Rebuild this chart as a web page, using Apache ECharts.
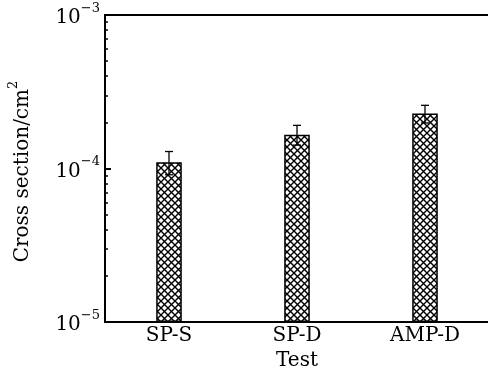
<!DOCTYPE html>
<html>
<head>
<meta charset="utf-8">
<script src="https://cdn.jsdelivr.net/npm/echarts@6/dist/echarts.min.js"></script>
<style>
  html, body { margin: 0; padding: 0; background: #fff; }
  #chart { width: 488px; height: 367px; }
</style>
</head>
<body>
<div id="chart"></div>
<script>
// 截面 vs 测试类型 - 对数纵轴 + 网格填充柱 + 误差棒
var categories = ['SP-S', 'SP-D', 'AMP-D'];
var crossSection = [1.10e-4, 1.66e-4, 2.28e-4];
var errLow = [0.91e-4, 1.42e-4, 1.98e-4];
var errHigh = [1.29e-4, 1.91e-4, 2.58e-4];
var minorTicks = [2e-5, 3e-5, 4e-5, 5e-5, 6e-5, 7e-5, 8e-5, 9e-5,
                  2e-4, 3e-4, 4e-4, 5e-4, 6e-4, 7e-4, 8e-4, 9e-4];

(function () {
  var font = 'DejaVu Serif';
  var ink = '#000';

  // 交叉斜线填充
  function hatch() {
    var c = document.createElement('canvas');
    var s = 7;
    c.width = s; c.height = s;
    var g = c.getContext('2d');
    g.fillStyle = '#fff';
    g.fillRect(0, 0, s, s);
    g.strokeStyle = '#000';
    g.lineWidth = 1.4;
    g.beginPath();
    g.moveTo(0, 0); g.lineTo(s, s);
    g.moveTo(s, 0); g.lineTo(0, s);
    g.stroke();
    return c;
  }

  var errData = categories.map(function (_, i) { return [i, errLow[i], errHigh[i]]; });

  var chart = echarts.init(document.getElementById('chart'), null, { renderer: 'canvas' });
  chart.setOption({
    animation: false,
    grid: {
      left: 105, width: 384, top: 15, bottom: 45, outerBoundsMode: 'none',
      show: true, borderColor: ink, borderWidth: 2
    },
    xAxis: {
      type: 'category', data: categories,
      name: 'Test', nameLocation: 'middle', nameGap: 29,
      nameTextStyle: { fontFamily: font, fontSize: 20, color: ink },
      axisLine: { show: true, lineStyle: { color: ink, width: 2 } },
      axisTick: { show: false },
      axisLabel: { fontFamily: font, fontSize: 20, color: ink, margin: 4 }
    },
    yAxis: [
      {
        type: 'log', logBase: 10, min: 1e-5, max: 1e-3, startValue: 1e-5,
        name: '{a|Cross section/cm}{s|2}', nameLocation: 'middle', nameGap: 72,
        nameTextStyle: {
          padding: [0, 6, 0, 0],
          rich: {
            a: { fontFamily: font, fontSize: 20, color: ink, lineHeight: 26, verticalAlign: 'bottom' },
            s: { fontFamily: font, fontSize: 13, color: ink, lineHeight: 26, verticalAlign: 'top' }
          }
        },
        axisLine: { show: true, lineStyle: { color: ink, width: 2 } },
        axisTick: { show: true, inside: true, length: 6, lineStyle: { color: ink, width: 2 } },
        splitLine: { show: false },
        axisLabel: {
          margin: 5,
          formatter: function (v) {
            var e = Math.round(Math.log10(v));
            return '{b|10}{s|\u2212' + Math.abs(e) + '}';
          },
          rich: {
            b: { fontFamily: font, fontSize: 20, color: ink, lineHeight: 26, verticalAlign: 'bottom' },
            s: { fontFamily: font, fontSize: 13, color: ink, lineHeight: 26, verticalAlign: 'top' }
          }
        }
      },
      {
        // 次刻度: 线性轴上按 log10 放置
        type: 'value', min: -5, max: -3, position: 'left',
        axisLine: { show: false },
        axisLabel: { show: false },
        splitLine: { show: false },
        axisTick: {
          show: true, inside: true, length: 3, lineStyle: { color: ink, width: 1.5 },
          customValues: minorTicks.map(function (v) { return Math.log10(v); })
        }
      }
    ],
    series: [
      {
        type: 'bar', data: crossSection, barWidth: '20%',
        itemStyle: { color: { image: hatch(), repeat: 'repeat' }, borderColor: ink, borderWidth: 1.5 }
      },
      {
        type: 'custom', data: errData, z: 5,
        renderItem: function (params, api) {
          var x = api.value(0);
          var lo = api.coord([x, api.value(1)]);
          var hi = api.coord([x, api.value(2)]);
          var w = 4;
          var st = { stroke: ink, lineWidth: 1.3 };
          return {
            type: 'group',
            children: [
              { type: 'line', shape: { x1: hi[0], y1: hi[1], x2: lo[0], y2: lo[1] }, style: st },
              { type: 'line', shape: { x1: hi[0] - w, y1: hi[1], x2: hi[0] + w, y2: hi[1] }, style: st },
              { type: 'line', shape: { x1: lo[0] - w, y1: lo[1], x2: lo[0] + w, y2: lo[1] }, style: st }
            ]
          };
        }
      }
    ]
  });
  window.addEventListener('resize', function () { chart.resize(); });
})();
</script>
</body>
</html>
